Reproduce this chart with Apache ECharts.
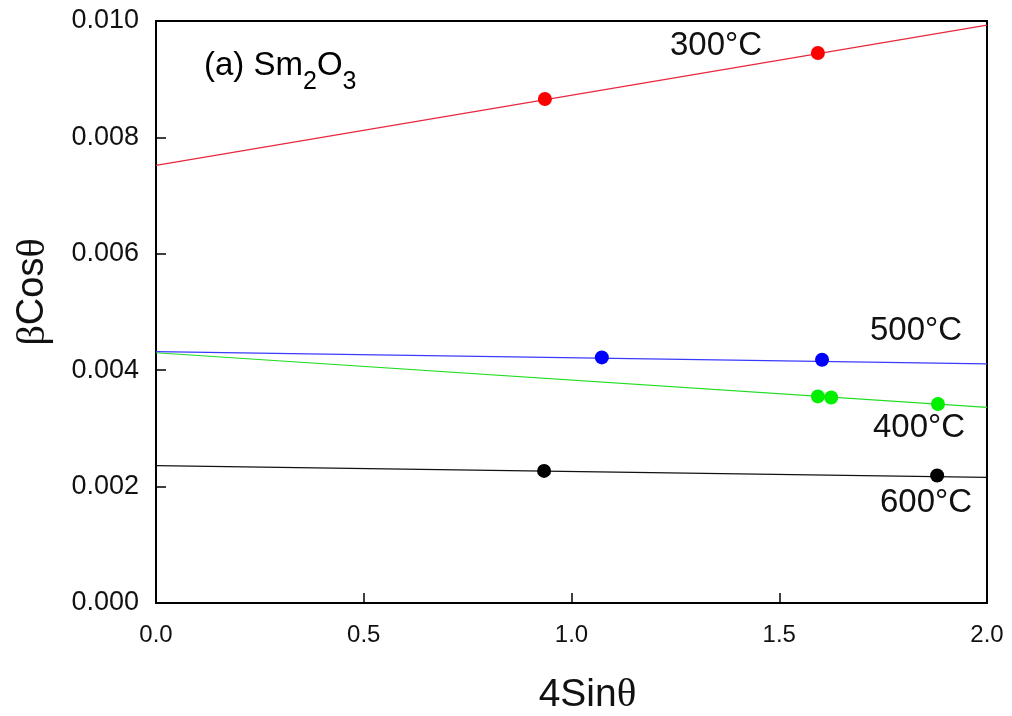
<!DOCTYPE html>
<html>
<head>
<meta charset="utf-8">
<script src="https://cdn.jsdelivr.net/npm/echarts@6/dist/echarts.min.js"></script>
<style>
  html, body { margin: 0; padding: 0; background: #fff; }
  #chart { width: 1012px; height: 716px; }
</style>
</head>
<body>
<div id="chart"></div>
<script>
// Williamson–Hall data for Sm2O3 annealed at four temperatures
const xTicks = [0.0, 0.5, 1.0, 1.5, 2.0];
const yTicks = [0.000, 0.002, 0.004, 0.006, 0.008, 0.010];

// measured points: [4Sinθ, βCosθ]
const pts300 = [[0.936, 0.00866], [1.593, 0.00945]];
const pts400 = [[1.593, 0.00355], [1.625, 0.00353], [1.882, 0.00342]];
const pts500 = [[1.073, 0.00422], [1.603, 0.00418]];
const pts600 = [[0.934, 0.00227], [1.880, 0.00219]];

// fitted lines, endpoints at 4Sinθ = 0 and 2
const fit300 = [[0, 0.00752], [2, 0.00993]];
const fit400 = [[0, 0.00430], [2, 0.00336]];
const fit500 = [[0, 0.00432], [2, 0.00411]];
const fit600 = [[0, 0.00236], [2, 0.00216]];

const FONT = '"Liberation Sans", Arial, sans-serif';
const GREEK = '"Liberation Serif", "Times New Roman", serif';

const groups = [
  { name: '300°C', color: '#ff0000', line: '#e8283c', pts: pts300, fit: fit300 },
  { name: '400°C', color: '#00f000', line: '#22dd22', pts: pts400, fit: fit400 },
  { name: '500°C', color: '#0000ff', line: '#3a3aff', pts: pts500, fit: fit500 },
  { name: '600°C', color: '#000000', line: '#111111', pts: pts600, fit: fit600 }
];

const series = [];
groups.forEach(g => {
  series.push({
    name: g.name + ' fit',
    type: 'line',
    data: g.fit,
    symbol: 'none',
    silent: true,
    lineStyle: { color: g.line, width: 1.2 },
    z: 2
  });
  series.push({
    name: g.name,
    type: 'scatter',
    data: g.pts,
    symbol: 'circle',
    symbolSize: 14,
    itemStyle: { color: g.color, opacity: 1 },
    z: 3
  });
});

const chart = echarts.init(document.getElementById('chart'), null, { renderer: 'canvas' });

const tempLabel = (text, x, y) => ({
  type: 'text', x: x, y: y,
  style: { text: text, fontFamily: FONT, fontSize: 33, fill: '#111', verticalAlign: 'middle', align: 'left' }
});

chart.setOption({
  animation: false,
  backgroundColor: '#ffffff',
  grid: {
    left: 156, right: 25, top: 21, bottom: 113,
    outerBoundsMode: 'none',
    containLabel: false,
    show: true, borderColor: '#000', borderWidth: 2
  },
  xAxis: {
    type: 'value',
    min: xTicks[0], max: xTicks[xTicks.length - 1], interval: 0.5,
    name: '{a|4Sin}{g|θ}',
    nameLocation: 'middle',
    nameGap: 72,
    nameTextStyle: {
      padding: [0, 0, 0, 32],
      rich: {
        a: { fontFamily: FONT, fontSize: 39, color: '#111' },
        g: { fontFamily: GREEK, fontSize: 41, color: '#111' }
      }
    },
    axisLine: { show: true, onZero: false, lineStyle: { color: '#000', width: 2 } },
    axisTick: { show: true, inside: true, length: 10, lineStyle: { color: '#000', width: 1.5 } },
    splitLine: { show: false },
    axisLabel: {
      fontFamily: FONT, fontSize: 24, color: '#111', margin: 20,
      formatter: v => v.toFixed(1)
    }
  },
  yAxis: {
    type: 'value',
    min: yTicks[0], max: yTicks[yTicks.length - 1], interval: 0.002,
    name: '{g|β}{a|Cos}{g|θ}',
    nameLocation: 'middle',
    nameGap: 103,
    nameTextStyle: {
      padding: [0, 0, 0, 40],
      rich: {
        a: { fontFamily: FONT, fontSize: 38, color: '#111' },
        g: { fontFamily: GREEK, fontSize: 40, color: '#111' }
      }
    },
    axisLine: { show: true, onZero: false, lineStyle: { color: '#000', width: 2 } },
    axisTick: { show: true, inside: true, length: 10, lineStyle: { color: '#000', width: 1.5 } },
    splitLine: { show: false },
    axisLabel: {
      fontFamily: FONT, fontSize: 27, color: '#111', margin: 17,
      formatter: v => v.toFixed(3)
    }
  },
  series: series,
  graphic: [
    {
      type: 'text', x: 204, y: 49,
      style: {
        text: '{a|(a) Sm}{s|2}{a|O}{s|3}{z| }',
        rich: {
          a: { fontFamily: FONT, fontSize: 33, color: '#111', lineHeight: 34, verticalAlign: 'top' },
          s: { fontFamily: FONT, fontSize: 25, color: '#111', lineHeight: 25, verticalAlign: 'bottom' },
          z: { fontSize: 1, lineHeight: 46 }
        }
      }
    },
    tempLabel('300°C', 670, 46),
    tempLabel('500°C', 870, 331),
    tempLabel('400°C', 873, 428),
    tempLabel('600°C', 880, 503)
  ]
});
</script>
</body>
</html>
